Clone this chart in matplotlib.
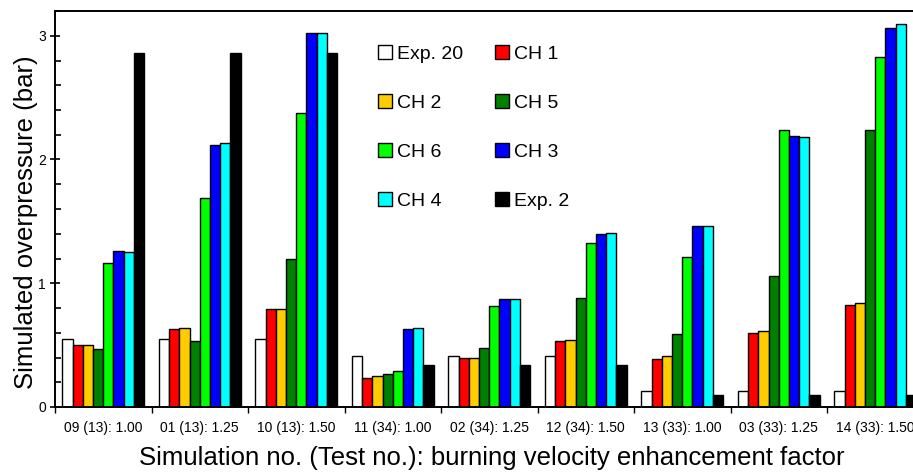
import numpy as np
import matplotlib.pyplot as plt
from matplotlib.ticker import MultipleLocator, FixedLocator, NullFormatter

plt.rcParams['font.family'] = ['Liberation Sans', 'DejaVu Sans']

cases = ['09 (13): 1.00', '01 (13): 1.25', '10 (13): 1.50',
         '11 (34): 1.00', '02 (34): 1.25', '12 (34): 1.50',
         '13 (33): 1.00', '03 (33): 1.25', '14 (33): 1.50']

series = ['Exp. 20', 'CH 1', 'CH 2', 'CH 5', 'CH 6', 'CH 3', 'CH 4', 'Exp. 2']
colors = ['white', '#ff0000', '#ffcc00', '#008000', '#00ff00', '#0000ff', '#00ffff', 'black']

# overpressure in bar, one list per series, one value per case
exp20 = [0.553, 0.553, 0.553, 0.41, 0.41, 0.41, 0.13, 0.13, 0.13]
ch1 = [0.50, 0.634, 0.788, 0.238, 0.40, 0.534, 0.386, 0.60, 0.828]
ch2 = [0.50, 0.639, 0.79, 0.248, 0.40, 0.54, 0.41, 0.615, 0.841]
ch5 = [0.472, 0.534, 1.20, 0.27, 0.477, 0.882, 0.588, 1.057, 2.239]
ch6 = [1.165, 1.691, 2.374, 0.291, 0.82, 1.327, 1.214, 2.239, 2.832]
ch3 = [1.26, 2.117, 3.026, 0.634, 0.871, 1.395, 1.462, 2.19, 3.066]
ch4 = [1.249, 2.131, 3.026, 0.639, 0.871, 1.403, 1.462, 2.18, 3.094]
exp2 = [2.864, 2.864, 2.86, 0.343, 0.343, 0.343, 0.10, 0.10, 0.10]
values = [exp20, ch1, ch2, ch5, ch6, ch3, ch4, exp2]

fig = plt.figure(figsize=(9.13, 4.76), dpi=100)
ax = fig.add_axes([55 / 913, 69 / 476, 868.5 / 913, 396 / 476])

x = np.arange(len(cases))
w = 0.106
bars = []
for j, (name, col, vals) in enumerate(zip(series, colors, values)):
    b = ax.bar(x + (j - 3.5) * w, vals, width=w, color=col,
               edgecolor='black', linewidth=1.0, label=name, zorder=2)
    bars.append(b)

ax.set_xlim(-0.5, len(cases) - 0.5)
ax.set_ylim(0, 3.2)

for s in ax.spines.values():
    s.set_linewidth(1.4)

# y axis: labelled ticks crossing the spine, minor ticks inside
ax.yaxis.set_major_locator(MultipleLocator(1))
ax.yaxis.set_minor_locator(MultipleLocator(0.2))
ax.tick_params(axis='y', which='major', direction='inout', length=7,
               width=1.2, labelsize=10, pad=3)
ax.tick_params(axis='y', which='minor', direction='in', length=4, width=1.2)

# x axis: separators between groups, labels at group centres
ax.xaxis.set_major_locator(FixedLocator(np.arange(len(cases) + 1) - 0.5))
ax.xaxis.set_major_formatter(NullFormatter())
ax.xaxis.set_minor_locator(FixedLocator(x))
ax.set_xticks(x, cases, minor=True)
ax.tick_params(axis='x', which='major', direction='out', length=4, width=1.0)
ax.tick_params(axis='x', which='minor', length=0, labelsize=10, pad=10)

# legend filled row by row: reorder for the column-wise layout
order = [0, 2, 4, 6, 1, 3, 5, 7]
leg = ax.legend([bars[i] for i in order], [series[i] for i in order],
                ncol=2, frameon=False, fontsize=14,
                handlelength=0.72, handleheight=0.72, handletextpad=0.25,
                labelspacing=1.61, columnspacing=1.65,
                loc='upper left', bbox_to_anchor=(0.372, 0.914),
                borderaxespad=0, borderpad=0)

fig.text(33 / 913, 1 - 222 / 476, 'Simulated overpressure (bar)',
         rotation=90, rotation_mode='anchor', ha='center', va='baseline',
         fontsize=18.5)
fig.text(491.5 / 913, 1 - 465 / 476,
         'Simulation no. (Test no.): burning velocity enhancement factor',
         ha='center', va='baseline', fontsize=18.5)

fig.savefig('out.png', dpi=100)
